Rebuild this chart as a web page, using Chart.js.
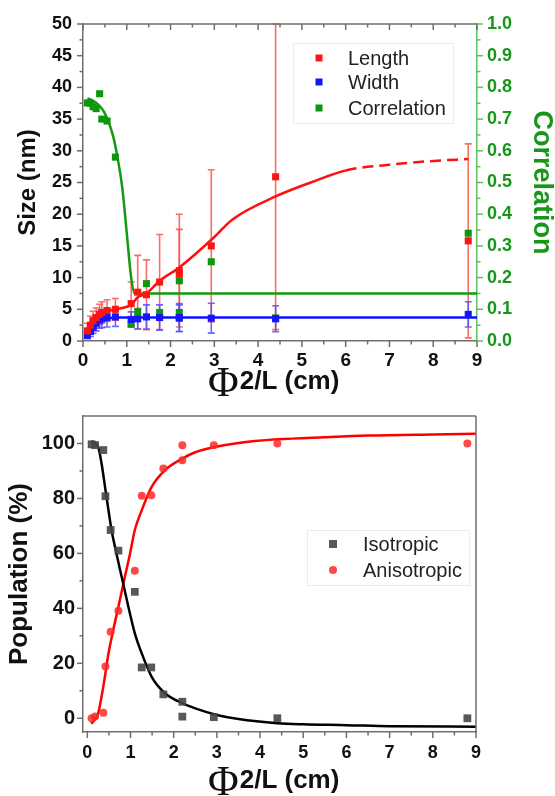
<!DOCTYPE html>
<html>
<head>
<meta charset="utf-8">
<script src="https://cdn.jsdelivr.net/npm/chart.js@4.4.1/dist/chart.umd.min.js"></script>
<style>
  html, body { margin: 0; padding: 0; background: #fff; }
  #wrap { position: relative; width: 555px; height: 796px; }
  canvas { position: absolute; left: 0; }
  #topChart { top: 0; }
  #botChart { top: 400px; }
</style>
</head>
<body>
<div id="wrap">
  <canvas id="topChart" width="555" height="400"></canvas>
  <canvas id="botChart" width="555" height="396"></canvas>
</div>
<script>
// top panel: size and correlation vs phi^2/L
const phiX = [0.1, 0.17, 0.23, 0.3, 0.38, 0.43, 0.55, 0.74, 1.1, 1.25, 1.45, 1.75, 2.2, 2.2, 2.93, 4.4, 8.8];
const lengthNm = [1.6, 2.5, 3.2, 3.7, 4.2, 4.5, 4.8, 5.0, 5.9, 7.7, 7.3, 9.3, 10.6, 11.1, 15.0, 25.9, 15.8];
const lengthErr = [1.2, 1.4, 1.5, 1.5, 1.6, 1.7, 1.7, 1.7, 3.4, 5.8, 5.5, 7.5, 7.0, 8.9, 12.0, 24.1, 15.3];
const widthNm = [0.9, 1.5, 2.2, 2.8, 3.3, 3.5, 3.7, 3.8, 3.4, 3.5, 3.8, 3.7, 3.7, 3.6, 3.6, 3.5, 4.2];
const widthErr = [0.5, 0.8, 1.0, 1.2, 1.3, 1.4, 1.5, 1.5, 1.2, 1.6, 1.9, 2.0, 2.2, 2.1, 2.35, 2.05, 2.0];
const correlation = [0.751, 0.75, 0.739, 0.733, 0.78, 0.70, 0.694, 0.58, 0.053, 0.092, 0.181, 0.09, 0.19, 0.09, 0.25, 0.073, 0.34];

const lengthFitX = [0.1, 0.2, 0.3, 0.4, 0.5, 0.6, 0.75, 1.0, 1.1, 1.25, 1.45, 1.75, 2.2, 3.0, 3.4, 4.4, 5.2, 6.0, 7.0, 8.0, 8.8];
const lengthFitY = [1.4, 2.8, 3.6, 4.1, 4.5, 4.8, 5.0, 5.4, 5.7, 6.9, 7.5, 9.5, 11.6, 16.4, 19.1, 22.8, 25.0, 26.9, 27.8, 28.4, 28.7];
const widthFitX = [0.1, 0.2, 0.3, 0.4, 0.5, 0.6, 0.75, 9.0];
const widthFitY = [1.1, 2.2, 2.9, 3.3, 3.5, 3.6, 3.7, 3.7];
const corrFitX = [0.1, 0.2, 0.3, 0.4, 0.5, 0.6, 0.7, 0.8, 0.9, 1.0, 1.1, 1.18, 9.0];
const corrFitY = [0.765, 0.76, 0.752, 0.738, 0.718, 0.685, 0.64, 0.57, 0.48, 0.34, 0.2, 0.15, 0.15];

// bottom panel: population
const phiX2 = [0.1, 0.18, 0.37, 0.42, 0.54, 0.72, 1.1, 1.26, 1.48, 1.76, 2.2, 2.2, 2.93, 4.4, 8.8];
const isotropic = [99.7, 99.4, 97.6, 80.8, 68.5, 61.0, 46.0, 18.5, 18.5, 8.7, 6.0, 0.6, 0.4, 0, 0];
const anisotropic = [0, 0.6, 2.0, 18.8, 31.5, 39.1, 53.7, 81.0, 81.2, 90.9, 93.9, 99.4, 99.4, 100, 100];
const isoFitX = [0.09, 0.25, 0.33, 0.41, 0.49, 0.56, 0.64, 0.76, 0.83, 0.95, 1.1, 1.26, 1.49, 1.8, 2.2, 2.5, 3.0, 3.5, 4.4, 5, 6, 7, 9];
const isoFitY = [100.9, 98.8, 92.7, 84.2, 75.7, 68.5, 62.4, 53.9, 49.1, 40.6, 30.9, 23.6, 15.1, 9.1, 5.5, 3.6, 1.2, -0.3, -1.8, -2.2, -2.5, -2.9, -3.05];
const anisoFitX = [0.09, 0.25, 0.37, 0.49, 0.6, 0.72, 0.87, 0.99, 1.1, 1.26, 1.49, 1.8, 2.2, 2.5, 2.92, 3.5, 4.4, 5.5, 6.5, 8.0, 9.0];
const anisoFitY = [-2, 1.8, 11.5, 23.6, 32.1, 40.6, 51.5, 60, 68.5, 75.7, 84.2, 90.3, 94.5, 96.8, 98.6, 100.2, 101.5, 102.3, 102.9, 103.3, 103.5];

// tick labels
const xTicks = [0, 1, 2, 3, 4, 5, 6, 7, 8, 9];
const sizeTicks = [0, 5, 10, 15, 20, 25, 30, 35, 40, 45, 50];
const corrTicks = [0, 0.1, 0.2, 0.3, 0.4, 0.5, 0.6, 0.7, 0.8, 0.9, 1.0];
const popTicks = [0, 20, 40, 60, 80, 100];

const pts = (xs, ys) => xs.map((x, i) => ({x: x, y: ys[i]}));
const GREEN = '#17961a';
const AXIS = '#6e6e6e';
Chart.defaults.font.family = '"Liberation Sans", Arial, sans-serif';

// fixed box sizes so the plot areas land where the original has them
const fixWidth = w => s => { s.width = w; s.paddingTop = 0; s.paddingBottom = 0; };
const fixHeight = h => s => { s.height = h; s.paddingLeft = 0; s.paddingRight = 0; };

// error bars, read from ds.errors
const errorBars = {
  id: 'errorBars',
  beforeDatasetsDraw(chart) {
    const ctx = chart.ctx, a = chart.chartArea;
    ctx.save();
    ctx.beginPath();
    ctx.rect(a.left, a.top - 1, a.right - a.left, a.bottom - a.top + 2);
    ctx.clip();
    chart.data.datasets.forEach(ds => {
      if (!ds.errors) return;
      const xs = chart.scales.x, ys = chart.scales[ds.yAxisID || 'y'];
      ctx.strokeStyle = ds.errorColor;
      ctx.lineWidth = 1.6;
      ds.data.forEach((p, j) => {
        const e = ds.errors[j];
        const px = xs.getPixelForValue(p.x);
        const y1 = ys.getPixelForValue(p.y + e), y2 = ys.getPixelForValue(p.y - e);
        ctx.beginPath();
        ctx.moveTo(px, y1); ctx.lineTo(px, y2);
        ctx.moveTo(px - 3.5, y1); ctx.lineTo(px + 3.5, y1);
        ctx.moveTo(px - 3.5, y2); ctx.lineTo(px + 3.5, y2);
        ctx.stroke();
      });
    });
    ctx.restore();
  }
};

// major + minor tick marks and extra frame lines
const tickMarks = {
  id: 'tickMarks',
  afterDraw(chart, args, opts) {
    const ctx = chart.ctx, a = chart.chartArea;
    ctx.save();
    ctx.lineWidth = 1.5;
    (opts.frame || []).forEach(side => {
      ctx.strokeStyle = AXIS;
      ctx.beginPath();
      if (side === 'top') { ctx.moveTo(a.left, a.top); ctx.lineTo(a.right, a.top); }
      if (side === 'right') { ctx.moveTo(a.right, a.top); ctx.lineTo(a.right, a.bottom); }
      ctx.stroke();
    });
    (opts.marks || []).forEach(m => {
      const s = chart.scales[m.scale];
      const vals = s.ticks.map(t => t.value);
      const all = [];
      vals.forEach((v, i) => {
        all.push([v, true]);
        if (i < vals.length - 1) all.push([(v + vals[i + 1]) / 2, false]);
      });
      ctx.strokeStyle = m.color || AXIS;
      all.forEach(([v, major]) => {
        const len = major ? 6 : 3.5;
        const p = s.getPixelForValue(v);
        ctx.beginPath();
        if (m.side === 'bottom') { ctx.moveTo(p, a.bottom); ctx.lineTo(p, a.bottom + len); }
        else if (m.side === 'top') { ctx.moveTo(p, a.top); ctx.lineTo(p, a.top + len); }
        else if (m.side === 'left') { ctx.moveTo(a.left, p); ctx.lineTo(a.left - len, p); }
        else { ctx.moveTo(a.right, p); ctx.lineTo(a.right + len, p); }
        ctx.stroke();
      });
    });
    ctx.restore();
  }
};

// boxed legend inside the plot
const boxLegend = {
  id: 'boxLegend',
  afterDraw(chart, args, o) {
    const ctx = chart.ctx;
    ctx.save();
    ctx.fillStyle = '#fff';
    ctx.fillRect(o.x, o.y, o.w, o.h);
    ctx.strokeStyle = '#ececec';
    ctx.lineWidth = 1;
    ctx.strokeRect(o.x + 0.5, o.y + 0.5, o.w, o.h);
    const items = chart.data.datasets.filter(ds => ds.inLegend);
    ctx.font = '20px "Liberation Sans", Arial, sans-serif';
    ctx.textBaseline = 'middle';
    items.forEach((ds, i) => {
      const y = o.rows[i];
      ctx.fillStyle = ds.backgroundColor;
      if (ds.pointStyle === 'circle') {
        ctx.beginPath(); ctx.arc(o.markX, y, 4, 0, Math.PI * 2); ctx.fill();
      } else {
        ctx.fillRect(o.markX - o.mark / 2, y - o.mark / 2, o.mark, o.mark);
      }
      ctx.fillStyle = '#222';
      ctx.fillText(ds.label, o.textX, y + 1);
    });
    ctx.restore();
  }
};

// x axis title: serif Phi, then bold sans "2/L (cm)"
const phiTitle = {
  id: 'phiTitle',
  afterDraw(chart, args, o) {
    const ctx = chart.ctx;
    ctx.save();
    ctx.fillStyle = '#111';
    ctx.textBaseline = 'alphabetic';
    ctx.font = '42px "Liberation Serif", "Times New Roman", serif';
    ctx.fillText('\u03A6', o.x, o.phiBase);
    const w = ctx.measureText('\u03A6').width;
    ctx.font = 'bold 26px "Liberation Sans", Arial, sans-serif';
    ctx.fillText('2/L (cm)', o.x + w + 1, o.base);
    ctx.restore();
  }
};

const tickFont = {size: 18, weight: 'bold'};

new Chart(document.getElementById('topChart'), {
  type: 'scatter',
  data: {
    datasets: [
      {label: 'Length', inLegend: true, data: pts(phiX, lengthNm), errors: lengthErr, errorColor: 'rgba(255,80,80,0.85)',
       yAxisID: 'y', pointStyle: 'rect', pointRadius: 5, backgroundColor: '#ff1414', borderWidth: 0, order: 0},
      {label: 'Width', inLegend: true, data: pts(phiX, widthNm), errors: widthErr, errorColor: 'rgba(80,80,255,0.85)',
       yAxisID: 'y', pointStyle: 'rect', pointRadius: 5, backgroundColor: '#1414ff', borderWidth: 0, order: 0},
      {label: 'Correlation', inLegend: true, data: pts(phiX, correlation),
       yAxisID: 'y1', pointStyle: 'rect', pointRadius: 5, backgroundColor: '#0f960f', borderWidth: 0, order: 0},
      {label: 'Length fit', data: pts(lengthFitX, lengthFitY), yAxisID: 'y', showLine: true, pointRadius: 0,
       borderColor: '#ff1010', borderWidth: 2.5, cubicInterpolationMode: 'monotone', order: 1,
       segment: {borderDash: c => c.p0.parsed.x >= 5.9 ? [11, 6] : undefined}},
      {label: 'Width fit', data: pts(widthFitX, widthFitY), yAxisID: 'y', showLine: true, pointRadius: 0,
       borderColor: '#1010ff', borderWidth: 2.5, cubicInterpolationMode: 'monotone', order: 1},
      {label: 'Correlation fit', data: pts(corrFitX, corrFitY), yAxisID: 'y1', showLine: true, pointRadius: 0,
       borderColor: '#129a12', borderWidth: 2.5, cubicInterpolationMode: 'monotone', order: 1}
    ]
  },
  options: {
    responsive: false,
    animation: false,
    events: [],
    layout: {padding: {top: 24, left: 0, right: 0, bottom: 0}},
    scales: {
      x: {
        type: 'linear', position: 'bottom', min: 0, max: 9,
        afterBuildTicks: s => { s.ticks = xTicks.map(v => ({value: v})); },
        afterFit: fixHeight(59),
        grid: {display: false, drawTicks: false},
        border: {display: true, color: AXIS, width: 1.5},
        ticks: {padding: 8, color: '#111', font: {size: 19, weight: 'bold'}, maxRotation: 0, autoSkip: false}
      },
      y: {
        type: 'linear', position: 'left', min: 0, max: 50,
        afterBuildTicks: s => { s.ticks = sizeTicks.map(v => ({value: v})); },
        afterFit: fixWidth(83),
        grid: {display: false, drawTicks: false},
        border: {display: true, color: AXIS, width: 1.5},
        ticks: {padding: 11, color: '#111', font: tickFont},
        title: {display: true, text: 'Size (nm)', color: '#111', padding: {top: 16, bottom: 0},
                font: {size: 24, weight: 'bold', lineHeight: 1}}
      },
      y1: {
        type: 'linear', position: 'right', min: 0, max: 1,
        afterBuildTicks: s => { s.ticks = corrTicks.map(v => ({value: v})); },
        afterFit: fixWidth(78),
        grid: {display: false, drawTicks: false},
        border: {display: true, color: '#5fbf5f', width: 1.5},
        ticks: {padding: 10, color: GREEN, font: tickFont, callback: v => v.toFixed(1)},
        title: {display: true, text: 'Correlation', color: GREEN, padding: {top: 0, bottom: 0},
                font: {size: 27, weight: 'bold', lineHeight: 1}}
      }
    },
    plugins: {
      legend: {display: false},
      tooltip: {enabled: false},
      tickMarks: {
        frame: ['top'],
        marks: [
          {scale: 'x', side: 'bottom'},
          {scale: 'x', side: 'top'},
          {scale: 'y', side: 'left'},
          {scale: 'y1', side: 'right', color: '#5fbf5f'}
        ]
      },
      boxLegend: {x: 293, y: 43, w: 160, h: 80, rows: [58, 82, 108], markX: 319, textX: 348, mark: 7},
      phiTitle: {x: 208, base: 389, phiBase: 396}
    }
  },
  plugins: [errorBars, tickMarks, boxLegend, phiTitle]
});

new Chart(document.getElementById('botChart'), {
  type: 'scatter',
  data: {
    datasets: [
      {label: 'Isotropic', inLegend: true, data: pts(phiX2, isotropic), pointStyle: 'rect', pointRadius: 5.5,
       backgroundColor: 'rgba(70,70,70,0.9)', borderWidth: 0, order: 0},
      {label: 'Anisotropic', inLegend: true, data: pts(phiX2, anisotropic), pointStyle: 'circle', pointRadius: 4,
       backgroundColor: 'rgba(255,40,40,0.85)', borderWidth: 0, order: 0},
      {label: 'Isotropic fit', data: pts(isoFitX, isoFitY), showLine: true, pointRadius: 0,
       borderColor: '#000', borderWidth: 2.5, cubicInterpolationMode: 'monotone', order: 1},
      {label: 'Anisotropic fit', data: pts(anisoFitX, anisoFitY), showLine: true, pointRadius: 0,
       borderColor: '#ff0000', borderWidth: 2.5, cubicInterpolationMode: 'monotone', order: 1}
    ]
  },
  options: {
    responsive: false,
    animation: false,
    events: [],
    layout: {padding: {top: 16, left: 0, right: 79, bottom: 0}},
    scales: {
      x: {
        type: 'linear', position: 'bottom', min: -0.1, max: 9,
        afterBuildTicks: s => { s.ticks = xTicks.map(v => ({value: v})); },
        afterFit: fixHeight(64),
        grid: {display: false, drawTicks: false},
        border: {display: true, color: AXIS, width: 1.5},
        ticks: {padding: 10, color: '#111', font: tickFont, maxRotation: 0, autoSkip: false}
      },
      y: {
        type: 'linear', position: 'left', min: -5, max: 110,
        afterBuildTicks: s => { s.ticks = popTicks.map(v => ({value: v})); },
        afterFit: fixWidth(83),
        grid: {display: false, drawTicks: false},
        border: {display: true, color: AXIS, width: 1.5},
        ticks: {padding: 8, color: '#111', font: {size: 20, weight: 'bold'}},
        title: {display: true, text: 'Population (%)', color: '#111', padding: {top: 7, bottom: 0},
                font: {size: 26, weight: 'bold', lineHeight: 1}}
      }
    },
    plugins: {
      legend: {display: false},
      tooltip: {enabled: false},
      tickMarks: {
        frame: ['top', 'right'],
        marks: [
          {scale: 'x', side: 'bottom'},
          {scale: 'y', side: 'left'}
        ]
      },
      boxLegend: {x: 307, y: 130, w: 162, h: 55, rows: [144, 170], markX: 333, textX: 363, mark: 8},
      phiTitle: {x: 208, base: 388, phiBase: 395}
    }
  },
  plugins: [tickMarks, boxLegend, phiTitle]
});
</script>
</body>
</html>
